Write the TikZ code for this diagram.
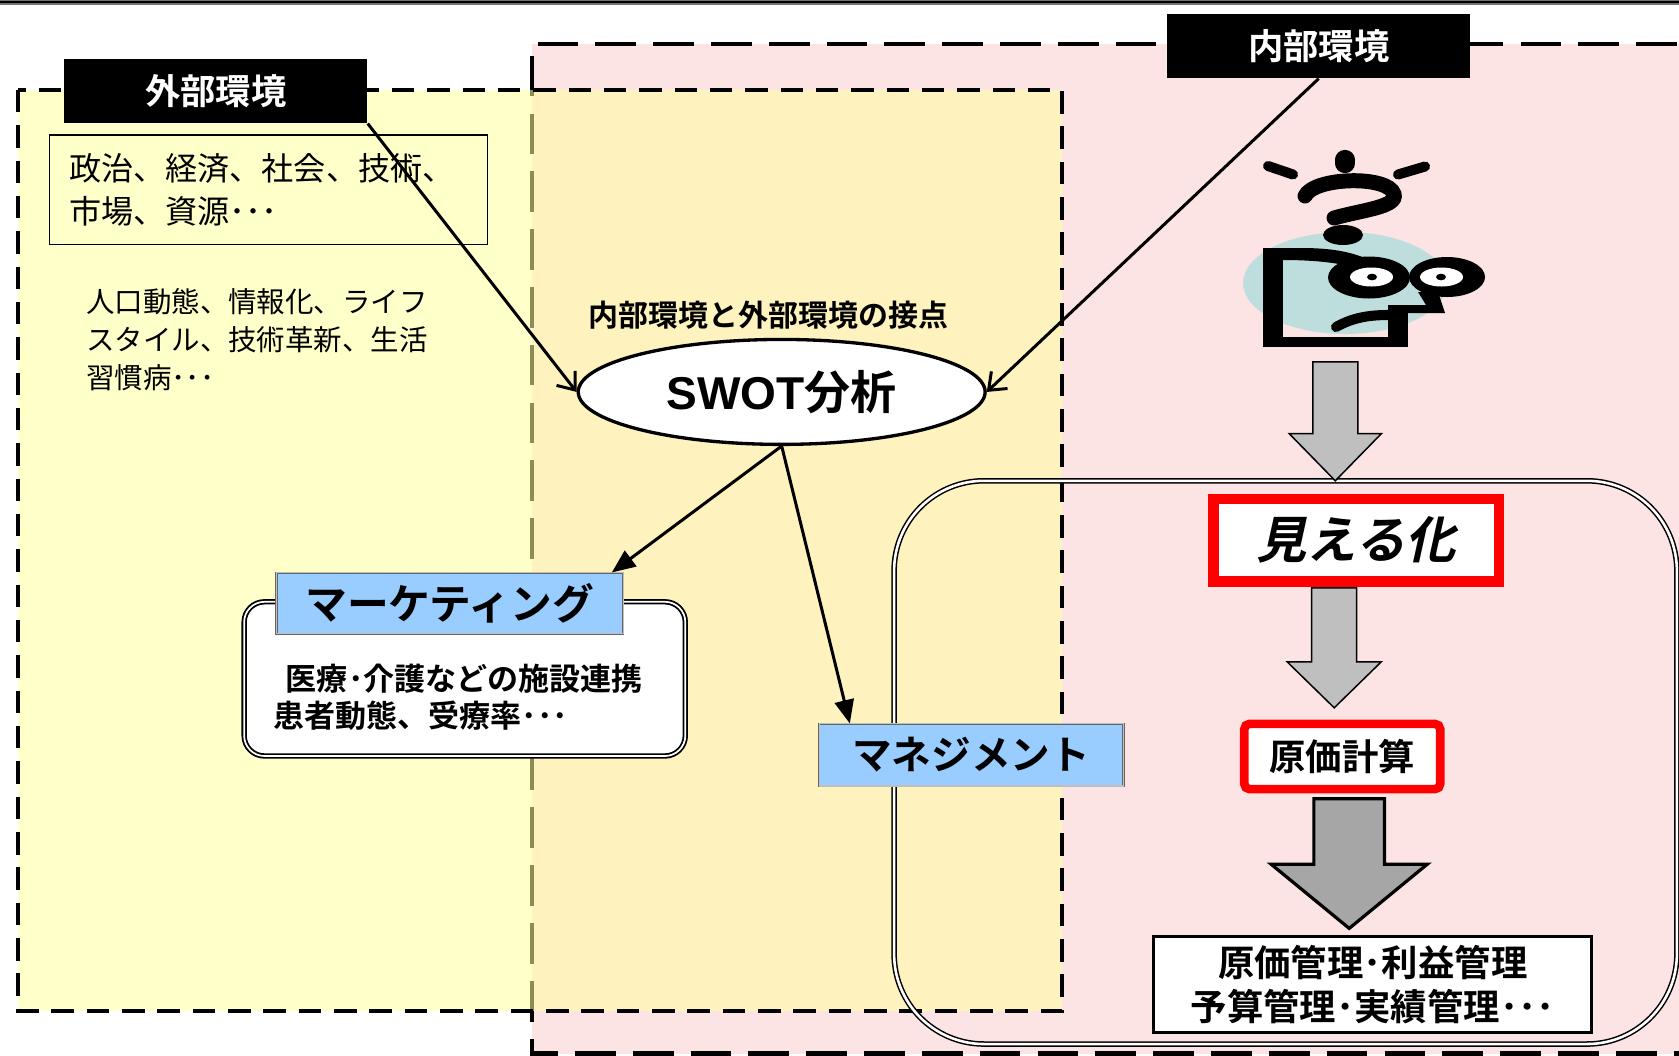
\documentclass[tikz,border=0pt]{standalone}
\usepackage{fontspec}
\setmainfont{Noto Sans CJK JP}[BoldFont={Noto Sans CJK JP Bold}]
\newfontfamily\jpbsl{Noto Sans CJK JP Bold}[FakeSlant=0.22]
\newfontfamily\arialike{Liberation Sans}
\usetikzlibrary{arrows.meta,shapes.geometric}

\definecolor{pinkbg}{RGB}{253,228,228}
\definecolor{yelbase}{RGB}{255,255,160}
\definecolor{skyblue}{RGB}{153,204,255}
\definecolor{faceteal}{RGB}{190,222,222}
\definecolor{arrowgray}{RGB}{191,191,191}
\definecolor{arrowdark}{RGB}{166,166,166}

\newcommand\fsz[2]{\fontsize{#1}{#2}\selectfont}
% block arrow: options, centre x, top y, head base y, tip y, shaft half width, head half width
\newcommand\blockarrow[7]{%
  \filldraw[#1] (#2-#6,#3) -- (#2+#6,#3) -- (#2+#6,#4) -- (#2+#7,#4) -- (#2,#5)
    -- (#2-#7,#4) -- (#2-#6,#4) -- cycle;}

\tikzset{
  px/.style={x={(0.5pt,0)}, y={(0,-0.5pt)}},
  pinkedge/.style={draw=black, line width=2.1pt, dash pattern=on 19pt off 8pt},
  yellowedge/.style={draw=black, line width=2.1pt, dash pattern=on 10.5pt off 6pt},
  envlabel/.style={fill=black, text=white, font=\bfseries\fsz{16.5pt}{18pt},
    minimum width=141.5pt, minimum height=30pt, inner sep=0pt},
  conn/.style={line width=1.4pt},
  opentip/.style={-{Straight Barb[length=7pt,width=11pt,line width=1.4pt]}},
  filltip/.style={-{Triangle[length=11pt,width=9pt]}},
  bluebox/.style={fill=skyblue, draw=black!60, double=black!25, line width=0.35pt,
    double distance=0.5pt, inner sep=0pt},
  softbox/.style={fill=white, draw=black, double=white, line width=0.85pt,
    double distance=0.8pt, rounded corners=9.5pt, inner sep=0pt},
  areaedge/.style={draw=black, double=white, line width=0.7pt, double distance=1.2pt,
    rounded corners=42pt},
  redbox/.style={draw=red, fill=white, inner sep=0pt},
}

\begin{document}
\begin{tikzpicture}[px]
\useasboundingbox (0,0) rectangle (1568,986);
\begin{scope}
\clip (0,0) rectangle (1568,986);
\fill[white] (0,0) rectangle (1568,986);

% internal environment plane
\fill[pinkbg] (497,41) rectangle (1620,984);
\draw[pinkedge] (1620,41) -- (497,41) -- (497,984) -- (1620,984);

% external environment plane (translucent)
\fill[yelbase, fill opacity=0.55] (17,84) rectangle (992,944);
\draw[yellowedge] (17,84) rectangle (992,944);

% top rule
\fill[black!55] (0,0) rectangle (1568,4.5);
\draw[line width=1pt] (0,2.2) -- (1568,2.2);

% management frame
\draw[areaedge] (835,449) rectangle (1566,975);

% environment labels
\node[envlabel] (ext) at (201.5,85) {外部環境};
\node[envlabel] (int) at (1231.5,43) {内部環境};

% external factors
\node[draw, line width=0.6pt, minimum width=204.5pt, minimum height=51pt,
  text width=186pt, align=left, inner sep=0pt, font=\fsz{15pt}{20pt}]
  (macro) at (250.5,177) {政治、経済、社会、技術、\\市場、資源･･･};
\node[anchor=west, align=left, inner sep=0pt, font=\fsz{13.3pt}{17.8pt}]
  (trend) at (80,317) {人口動態、情報化、ライフ\\スタイル、技術革新、生活\\習慣病･･･};

% SWOT
\node[font=\bfseries\fsz{14pt}{16pt}, inner sep=0pt] (contact) at (718,294) {内部環境と外部環境の接点};
\node[ellipse, draw, fill=white, line width=1.55pt, minimum width=190pt,
  minimum height=49pt, inner sep=0pt, font=\bfseries\fsz{21.5pt}{24pt}]
  (swot) at (730,366) {{\arialike\bfseries SWOT}分析};

% marketing
\node[softbox, minimum width=206pt, minimum height=72pt] (mktbg) at (434,634) {};
\node[bluebox, minimum width=162pt, minimum height=28.5pt,
  font=\bfseries\fsz{19.5pt}{20pt}] (mkt) at (420,563.5) {マーケティング};
\node[anchor=west, align=left, inner sep=0pt, font=\bfseries\fsz{14.5pt}{17pt}]
  (mkttxt) at (255,651) {\hspace*{0.4em}医療･介護などの施設連携\\患者動態、受療率･･･};

% management
\node[bluebox, minimum width=142pt, minimum height=29pt,
  font=\bfseries\fsz{18.5pt}{20pt}] (mgmt) at (907,705) {マネジメント};

% connectors
\draw[conn, opentip] (ext.south east) -- (swot.west);
\draw[conn, opentip] (int.south) -- (swot.east);
\draw[conn, filltip] (swot.south) -- ([xshift=-5.5pt]mkt.north east);
\draw[conn, filltip] (swot.south) -- ([xshift=14.5pt]mgmt.north west);

% puzzled figure
\begin{scope}[scale=0.9339]
  \fill[faceteal] (1345,283) ellipse [x radius=102, y radius=51];
  \draw[line width=4.7pt, line cap=round] (1268,166) -- (1293,174.5);
  \draw[line width=9pt, line cap=round] (1345,159.5) -- (1345,163.5);
  \draw[line width=4.7pt, line cap=round] (1398,174.5) -- (1425,166.5);
  \draw[line width=7pt, line cap=round] (1305,196) .. controls (1314,177) and (1388,175) .. (1394,194)
     .. controls (1398,207) and (1362,210) .. (1334,218);
  \fill (1343,235) ellipse [x radius=20, y radius=10];
  \fill (1263,248) rectangle (1283,347);
  \fill (1263,337) rectangle (1408,347);
  \fill (1388,305) rectangle (1408,347);
  \fill (1263,248) -- (1300,248) .. controls (1325,248) and (1345,250) .. (1365,258)
     -- (1358,268) .. controls (1335,262) and (1310,260) .. (1283,260) -- (1263,260) -- cycle;
  \fill (1369,277.5) ellipse [x radius=41, y radius=21];
  \fill (1447,277) ellipse [x radius=38, y radius=20];
  \fill[white] (1371.5,277) ellipse [x radius=21.5, y radius=9.5];
  \fill[white] (1441.5,277) ellipse [x radius=21.5, y radius=9.5];
  \fill (1372,277) ellipse [x radius=5, y radius=3.3];
  \fill (1441,277) ellipse [x radius=5, y radius=3.3];
  \fill (1418,292) -- (1438,292) -- (1445,313) -- (1388,313) -- (1388,305) -- (1426,305) -- cycle;
  \draw[line width=4.7pt, line cap=round] (1336,327) .. controls (1352,318) and (1368,315) .. (1388,315);
\end{scope}

% cost chain
\node[redbox, line width=5pt, minimum width=133.5pt, minimum height=38.5pt,
  font=\jpbsl\fsz{23.5pt}{25pt}] (vis) at (1266.5,504.5) {見える化};
\node[redbox, line width=4pt, rounded corners=2.5pt, minimum width=91.5pt,
  minimum height=30.5pt, font=\bfseries\fsz{17pt}{18pt}] (cost) at (1253.5,706.5) {原価計算};
\node[draw, fill=white, line width=1.5pt, minimum width=204.5pt, minimum height=45pt,
  align=center, inner sep=0pt, font=\bfseries\fsz{17pt}{20.5pt}]
  (ctrl) at (1282,919.5) {原価管理･利益管理\\予算管理･実績管理･･･};

\blockarrow{fill=arrowgray, draw=black, line width=0.7pt}{1247}{338}{405}{449}{21}{43}
\blockarrow{fill=arrowgray, draw=black, line width=0.7pt}{1246}{549}{618}{661}{21}{44}
\blockarrow{fill=arrowdark, draw=black, line width=1.5pt}{1260}{746}{807}{867}{33}{73}
\end{scope}
\end{tikzpicture}
\end{document}
